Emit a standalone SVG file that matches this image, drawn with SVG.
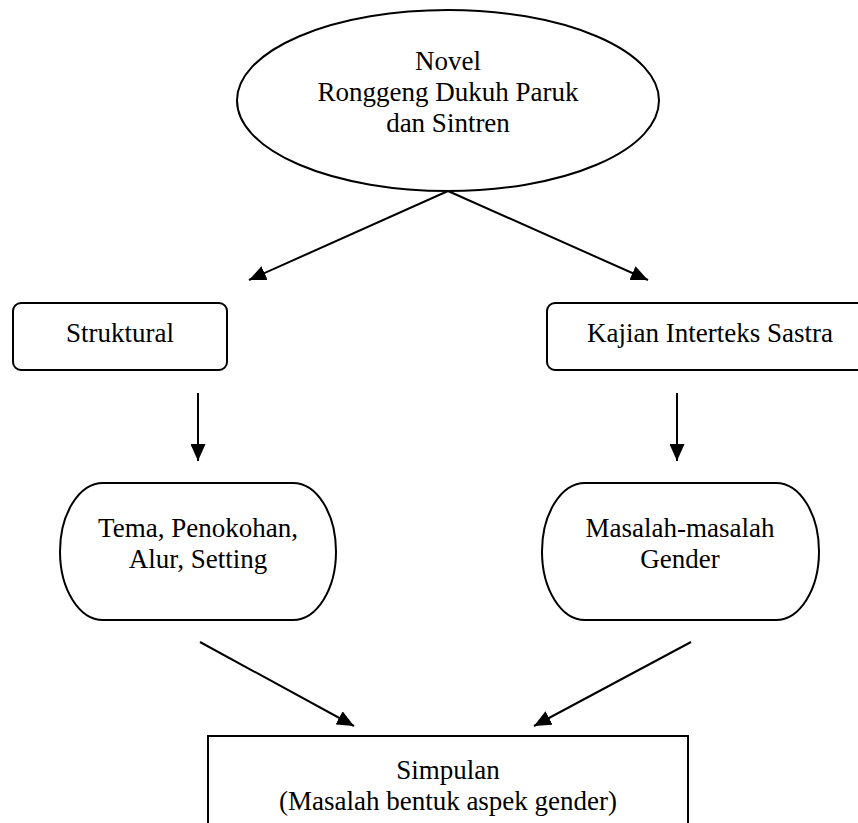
<svg xmlns="http://www.w3.org/2000/svg" width="858" height="823" viewBox="0 0 858 823">
<style>
.s{fill:#fff;stroke:#000;stroke-width:2}
.t{font-family:"Liberation Serif","Times New Roman",serif;font-size:27px;fill:#000;text-anchor:middle}
.c{stroke:#000;stroke-width:2;fill:none}
</style>
<defs>
<marker id="a" markerUnits="userSpaceOnUse" markerWidth="17" markerHeight="15" refX="17" refY="7.5" orient="auto">
<path d="M0,0 L17,7.5 L0,15 z" fill="#000"/>
</marker>
</defs>
<rect width="858" height="823" fill="#fff"/>
<g id="connectors">
<line class="c" x1="448" y1="191" x2="249" y2="280" marker-end="url(#a)"/>
<line class="c" x1="448" y1="191" x2="648" y2="280" marker-end="url(#a)"/>
<line class="c" x1="198" y1="393" x2="198" y2="461" marker-end="url(#a)"/>
<line class="c" x1="677" y1="393" x2="677" y2="461" marker-end="url(#a)"/>
<line class="c" x1="200" y1="642" x2="354" y2="726" marker-end="url(#a)"/>
<line class="c" x1="691" y1="642" x2="534" y2="726" marker-end="url(#a)"/>
</g>
<g id="novel">
<ellipse class="s" cx="448" cy="100.5" rx="211" ry="90.5"/>
<text class="t" x="448" y="70">Novel</text>
<text class="t" x="448" y="101">Ronggeng Dukuh Paruk</text>
<text class="t" x="448" y="132">dan Sintren</text>
</g>
<g id="struktural">
<rect class="s" x="13" y="303" width="214" height="67" rx="8"/>
<text class="t" x="120" y="342">Struktural</text>
</g>
<g id="kajian">
<rect class="s" x="547" y="303" width="326" height="67" rx="8"/>
<text class="t" x="710" y="342">Kajian Interteks Sastra</text>
</g>
<g id="tema">
<rect class="s" x="60" y="483" width="276" height="137" rx="43" ry="68.5"/>
<text class="t" x="198" y="537">Tema, Penokohan,</text>
<text class="t" x="198" y="568">Alur, Setting</text>
</g>
<g id="masalah">
<rect class="s" x="542" y="483" width="277" height="137" rx="43" ry="68.5"/>
<text class="t" x="680" y="537">Masalah-masalah</text>
<text class="t" x="680" y="568">Gender</text>
</g>
<g id="simpulan">
<rect class="s" x="208" y="736" width="480" height="100"/>
<text class="t" x="448" y="779">Simpulan</text>
<text class="t" x="448" y="810">(Masalah bentuk aspek gender)</text>
</g>
</svg>
